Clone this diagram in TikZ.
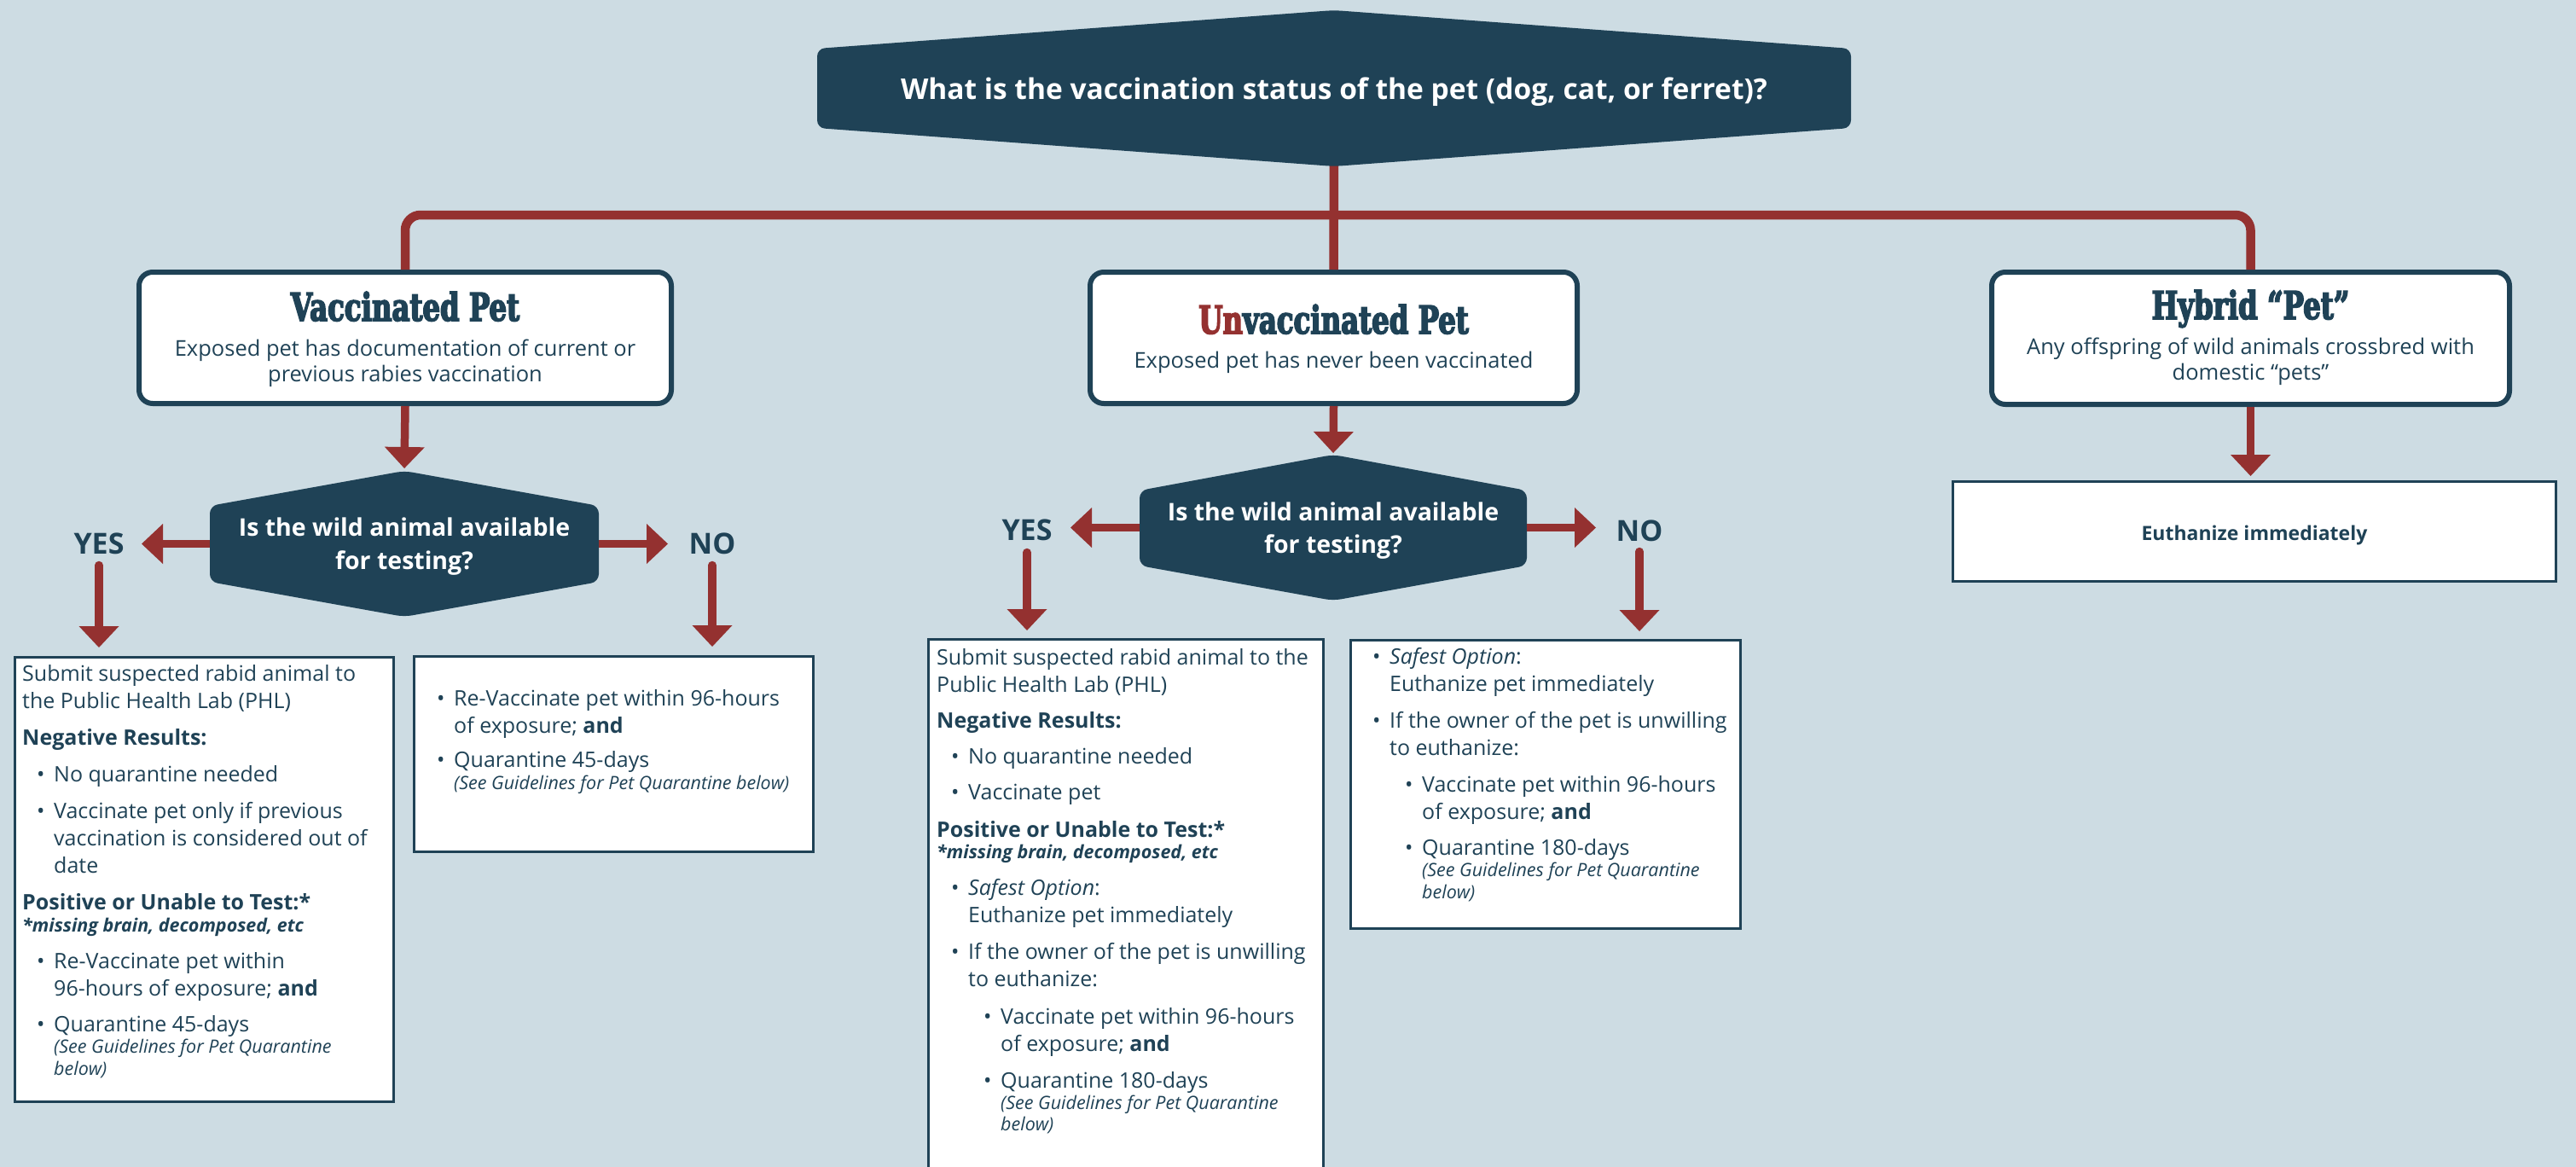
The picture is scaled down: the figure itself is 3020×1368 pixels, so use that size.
\documentclass[tikz,border=0pt]{standalone}
\usepackage{fontspec}
\setmainfont{Open Sans}
\newfontfamily\slab[FakeStretch=0.72,FakeBold=3.5]{DejaVu Serif}
\usetikzlibrary{arrows.meta}
\definecolor{bgc}{HTML}{CDDCE3}
\definecolor{navy}{HTML}{1F4256}
\definecolor{rd}{HTML}{943130}
\newcommand\fr{\fontsize{25}{32}\selectfont}
\newcommand\fsm{\fontsize{21.5}{25}\selectfont}
\newcommand\ia{\hspace*{17pt}\makebox[20pt][l]{•}}
\newcommand\ic{\hspace*{37pt}}
\newcommand\ib{\hspace*{55pt}\makebox[20pt][l]{•}}
\newcommand\id{\hspace*{75pt}}
\newcommand\smit[1]{{\fsm\itshape #1}}
\newcommand\smbi[1]{{\fsm\bfseries\itshape #1}}
\begin{document}
\begin{tikzpicture}[x=1pt,y=-1pt,
  redline/.style={draw=rd, line width=10.5pt},
  arr/.style={draw=rd, line width=9.5pt, -{Triangle[width=47pt,length=25pt,line width=0pt]}},
  hexfill/.style={fill=navy, rounded corners=9pt},
  titlebox/.style={draw=navy, fill=white, line width=6pt, rounded corners=16pt, inner sep=0pt},
  textbox/.style={draw=navy, fill=white, line width=3pt, inner sep=0pt},
  hextxt/.style={text=white, inner sep=0pt, anchor=base},
  lbl/.style={text=navy, font=\fontsize{34}{40}\selectfont\bfseries, inner sep=0pt, anchor=base},
  body/.style={text=navy, inner sep=0pt, font=\fr, anchor=base west},
  ttl/.style={text=navy, inner sep=0pt, font=\slab\bfseries\fontsize{45}{48}\selectfont, anchor=base},
  subt/.style={text=navy, inner sep=0pt, font=\fontsize{25.5}{30}\selectfont, anchor=base},
]
\useasboundingbox (0,0) rectangle (3020,1368);
\fill[bgc] (0,0) rectangle (3020,1368);

% title boxes
\node[titlebox, minimum width=624pt, minimum height=154pt] (vac) at (475,396) {};
\node[titlebox, minimum width=571pt, minimum height=154pt] (unv) at (1563.5,396) {};
\node[titlebox, minimum width=607pt, minimum height=155pt] (hyb) at (2638.5,396.5) {};

% content boxes
\node[textbox, minimum width=444pt, minimum height=521pt] (yb1) at (239.5,1031) {};
\node[textbox, minimum width=468pt, minimum height=229pt] (nb1) at (719.5,884) {};
\node[textbox, minimum width=463pt, minimum height=639pt] (yb2) at (1320,1069) {};
\node[textbox, minimum width=457pt, minimum height=338pt] (nb2) at (1812,919.5) {};
\node[textbox, minimum width=707pt, minimum height=117pt] (eb) at (2643,623) {};

% connector bar
\coordinate (bar) at (1564,252);
\coordinate (q0s) at (1564,185);
\draw[redline, rounded corners=18pt] (vac.north) |- (bar) -| (hyb.north);
\draw[redline] (q0s) -- (unv.north);

% hexagons
\fill[hexfill] (1564,12) -- (2170,57) -- (2170,150) -- (1564,195) -- (958,150) -- (958,57) -- cycle;
\fill[hexfill] (474,552) -- (702,593) -- (702,682) -- (474,723) -- (246,682) -- (246,593) -- cycle;
\fill[hexfill] (1563,533) -- (1790,575) -- (1790,663) -- (1563,704) -- (1336,663) -- (1336,575) -- cycle;

\coordinate (q1n) at (474,552);
\coordinate (q1w) at (246,637.5);
\coordinate (q1e) at (702,637.5);
\coordinate (q2n) at (1563,533);
\coordinate (q2w) at (1336,618.5);
\coordinate (q2e) at (1790,618.5);
\coordinate (t1w) at (166,637.5);
\coordinate (t1e) at (783,637.5);
\coordinate (t2w) at (1255,618.5);
\coordinate (t2e) at (1871,618.5);

% hexagon texts
\node[hextxt, font=\fontsize{33.5}{38}\selectfont\bfseries] (q0) at (1564,116) {What is the vaccination status of the pet (dog, cat, or ferret)?};
\node[hextxt, font=\fontsize{28.5}{39}\selectfont\bfseries] (q1) at (474,628) {\begin{tabular}[t]{@{}c@{}}Is the wild animal available\\ for testing?\end{tabular}};
\node[hextxt, font=\fontsize{28.5}{38}\selectfont\bfseries] (q2) at (1563,610) {\begin{tabular}[t]{@{}c@{}}Is the wild animal available\\ for testing?\end{tabular}};

% YES / NO labels
\node[lbl] (yes1) at (116,649) {YES};
\node[lbl] (no1) at (835,649) {NO};
\node[lbl] (yes2) at (1204,633) {YES};
\node[lbl] (no2) at (1922,634) {NO};

% arrows
\draw[arr, shorten >=3pt] (vac.south) -- (q1n);
\draw[arr, shorten >=2pt] (unv.south) -- (q2n);
\draw[arr, shorten >=5pt] (hyb.south) -- (eb.north -| hyb.south);
\draw[arr] (q1w) -- (t1w);
\draw[arr] (q1e) -- (t1e);
\draw[arr] (q2w) -- (t2w);
\draw[arr] (q2e) -- (t2e);
\draw[arr, line cap=round, shorten >=10pt] ([yshift=-13pt]yes1.south) -- (yes1.south |- yb1.north);
\draw[arr, line cap=round, shorten >=10pt] ([yshift=-13pt]no1.south) -- (no1.south |- nb1.north);
\draw[arr, line cap=round, shorten >=9pt] ([yshift=-14pt]yes2.south) -- (yes2.south |- yb2.north);
\draw[arr, line cap=round, shorten >=9pt] ([yshift=-12pt]no2.south) -- (no2.south |- nb2.north);

% title texts
\node[ttl] (vact) at (475,376) {Vaccinated Pet};
\node[subt] (vacs) at (475,417) {\begin{tabular}[t]{@{}c@{}}Exposed pet has documentation of current or\\ previous rabies vaccination\end{tabular}};
\node[ttl] (unvt) at (1563.5,391) {{\color{rd}Un}vaccinated Pet};
\node[subt] (unvs) at (1563.5,431) {Exposed pet has never been vaccinated};
\node[ttl] (hybt) at (2638.5,374) {Hybrid “Pet”};
\node[subt] (hybs) at (2638.5,415) {\begin{tabular}[t]{@{}c@{}}Any offspring of wild animals crossbred with\\ domestic “pets”\end{tabular}};
\node[text=navy, inner sep=0pt, anchor=base, font=\fontsize{23}{28}\selectfont\bfseries] (ebt) at (2643,633) {Euthanize immediately};

% body texts
\node[body] (yb1t) at (26,798) {\begin{tabular}[t]{@{}l@{}}
Submit suspected rabid animal to\\
the Public Health Lab (PHL)\\[11pt]
\textbf{Negative Results:}\\[11pt]
\ia No quarantine needed\\[11pt]
\ia Vaccinate pet only if previous\\
\ic vaccination is considered out of\\
\ic date\\[11pt]
\textbf{Positive or Unable to Test:*}\\[-6pt]
\smbi{*missing brain, decomposed, etc}\\[11pt]
\ia Re-Vaccinate pet within\\
\ic 96-hours of exposure; \textbf{and}\\[10pt]
\ia Quarantine 45-days\\[-7pt]
\ic\smit{(See Guidelines for Pet Quarantine}\\[-6pt]
\ic\smit{below)}
\end{tabular}};

\node[body] (nb1t) at (495,827) {\begin{tabular}[t]{@{}l@{}}
\ia Re-Vaccinate pet within 96-hours\\
\ic of exposure; \textbf{and}\\[8pt]
\ia Quarantine 45-days\\[-6pt]
\ic\smit{(See Guidelines for Pet Quarantine below)}
\end{tabular}};

\node[body] (yb2t) at (1098,779) {\begin{tabular}[t]{@{}l@{}}
Submit suspected rabid animal to the\\
Public Health Lab (PHL)\\[10pt]
\textbf{Negative Results:}\\[10pt]
\ia No quarantine needed\\[10pt]
\ia Vaccinate pet\\[12pt]
\textbf{Positive or Unable to Test:*}\\[-7pt]
\smbi{*missing brain, decomposed, etc}\\[11pt]
\ia \textit{Safest Option}:\\
\ic Euthanize pet immediately\\[11pt]
\ia If the owner of the pet is unwilling\\
\ic to euthanize:\\[12pt]
\ib Vaccinate pet within 96-hours\\
\id of exposure; \textbf{and}\\[11pt]
\ib Quarantine 180-days\\[-7pt]
\id\smit{(See Guidelines for Pet Quarantine}\\[-7pt]
\id\smit{below)}
\end{tabular}};

\node[body] (nb2t) at (1592,778) {\begin{tabular}[t]{@{}l@{}}
\ia \textit{Safest Option}:\\
\ic Euthanize pet immediately\\[11pt]
\ia If the owner of the pet is unwilling\\
\ic to euthanize:\\[11pt]
\ib Vaccinate pet within 96-hours\\
\id of exposure; \textbf{and}\\[10pt]
\ib Quarantine 180-days\\[-7pt]
\id\smit{(See Guidelines for Pet Quarantine}\\[-6pt]
\id\smit{below)}
\end{tabular}};
\end{tikzpicture}
\end{document}
